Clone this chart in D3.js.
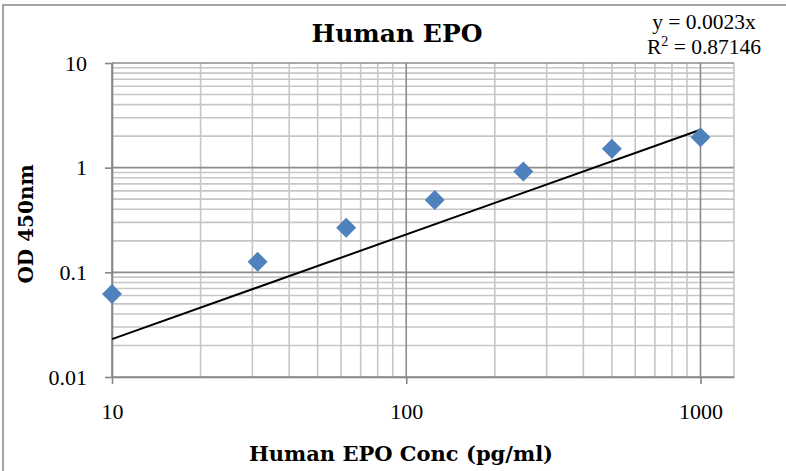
<!DOCTYPE html>
<html>
<head>
<meta charset="utf-8">
<script src="https://cdn.jsdelivr.net/npm/d3@7"></script>
<style>
  body { margin: 0; background: #fff; }
  svg { display: block; }
</style>
</head>
<body>
<svg width="786" height="471"></svg>
<script>
// data
const conc = [10, 31.25, 62.5, 125, 250, 500, 1000];
const od = [0.062, 0.126, 0.266, 0.49, 0.92, 1.52, 1.95];
const xTickVals = [10, 100, 1000];
const yTickVals = [0.01, 0.1, 1, 10];
const slope = 0.0023;          // trendline y = 0.0023x
const fitRange = [10, 1000];
const xDomain = [10, 1300];
const yDomain = [0.01, 10];

var marge = {top: 63, right: 52, bottom: 94, left: 112};
var svg = d3.select("svg");
var width = +svg.attr("width") - marge.left - marge.right;
var height = +svg.attr("height") - marge.top - marge.bottom;

// outer chart border (only top/left fall inside the picture)
svg.append("rect")
    .attr("x", 3).attr("y", 5)
    .attr("width", 900).attr("height", 600)
    .attr("fill", "none")
    .attr("stroke", "#878787")
    .attr("stroke-width", 1.5);

var g = svg.append("g")
    .attr("transform", "translate(" + marge.left + "," + marge.top + ")");

var xScale = d3.scaleLog().domain(xDomain).range([0, width]);
var yScale = d3.scaleLog().domain(yDomain).range([height, 0]);

// minor gridlines
var isMajor = v => Math.abs(Math.log10(v) - Math.round(Math.log10(v))) < 1e-9;

g.append("g")
    .selectAll("line")
    .data(xScale.ticks().filter(v => !isMajor(v)))
    .enter().append("line")
    .attr("x1", d => xScale(d)).attr("x2", d => xScale(d))
    .attr("y1", 0).attr("y2", height)
    .attr("stroke", "#c6c6c6").attr("stroke-width", 1.6);

g.append("g")
    .selectAll("line")
    .data(yScale.ticks().filter(v => !isMajor(v)))
    .enter().append("line")
    .attr("x1", 0).attr("x2", width)
    .attr("y1", d => yScale(d)).attr("y2", d => yScale(d))
    .attr("stroke", "#c6c6c6").attr("stroke-width", 1.6);

// right edge of plot area
g.append("line")
    .attr("x1", width).attr("x2", width)
    .attr("y1", 0).attr("y2", height)
    .attr("stroke", "#c6c6c6").attr("stroke-width", 1.6);

// major gridlines
g.append("g")
    .selectAll("line")
    .data(xTickVals)
    .enter().append("line")
    .attr("x1", d => xScale(d)).attr("x2", d => xScale(d))
    .attr("y1", 0).attr("y2", height)
    .attr("stroke", "#8c8c8c").attr("stroke-width", 1.6);

g.append("g")
    .selectAll("line")
    .data(yTickVals)
    .enter().append("line")
    .attr("x1", 0).attr("x2", width)
    .attr("y1", d => yScale(d)).attr("y2", d => yScale(d))
    .attr("stroke", "#8c8c8c").attr("stroke-width", 1.6);

// axes
var xAxis = d3.axisBottom(xScale)
    .tickValues(xTickVals)
    .tickFormat(d3.format(""))
    .tickSize(7).tickSizeOuter(0)
    .tickPadding(19);
var yAxis = d3.axisLeft(yScale)
    .tickValues(yTickVals)
    .tickFormat(d3.format(""))
    .tickSize(7).tickSizeOuter(0)
    .tickPadding(18);

var gx = g.append("g")
    .attr("transform", "translate(0," + height + ")")
    .call(xAxis);
var gy = g.append("g").call(yAxis);

[gx, gy].forEach(function(a) {
    a.selectAll("path, line").attr("stroke", "#868686").attr("stroke-width", 1.6);
    a.selectAll("text")
        .attr("fill", "#000")
        .style("font-family", "'Liberation Serif', serif")
        .style("font-size", "22px");
});

// trendline
var fit = d3.line()
    .x(d => xScale(d))
    .y(d => yScale(slope * d));
g.append("path")
    .datum(fitRange)
    .attr("d", fit)
    .attr("fill", "none")
    .attr("stroke", "#000")
    .attr("stroke-width", 2);

// diamond markers
var diamond = d3.symbol().type(d3.symbolSquare).size(200);
g.selectAll(".pt")
    .data(conc)
    .enter().append("path")
    .attr("class", "pt")
    .attr("d", diamond)
    .attr("transform", (d, i) => "translate(" + xScale(d) + "," + yScale(od[i]) + ") rotate(45)")
    .attr("fill", "#4f81bd");

// texts
svg.append("text")
    .attr("x", 397).attr("y", 42)
    .attr("text-anchor", "middle")
    .style("font-family", "'DejaVu Serif', serif")
    .style("font-weight", "bold")
    .style("font-size", "25px")
    .text("Human EPO");

svg.append("text")
    .attr("x", 401).attr("y", 461)
    .attr("text-anchor", "middle")
    .style("font-family", "'DejaVu Serif', serif")
    .style("font-weight", "bold")
    .style("font-size", "21px")
    .text("Human EPO Conc (pg/ml)");

svg.append("text")
    .attr("transform", "translate(26,224) rotate(-90)")
    .attr("text-anchor", "middle")
    .attr("dy", "0.36em")
    .style("font-family", "'DejaVu Serif', serif")
    .style("font-weight", "bold")
    .style("font-size", "20px")
    .text("OD 450nm");

var eq = svg.append("text")
    .attr("text-anchor", "middle")
    .style("font-family", "'Liberation Serif', serif")
    .style("font-size", "21.5px");
eq.append("tspan").attr("x", 704).attr("y", 29).text("y = 0.0023x");
var r2 = eq.append("tspan").attr("x", 704).attr("y", 54);
r2.append("tspan").text("R");
r2.append("tspan").attr("dy", -8).style("font-size", "14px").text("2");
r2.append("tspan").attr("dy", 8).text(" = 0.87146");
</script>
</body>
</html>
